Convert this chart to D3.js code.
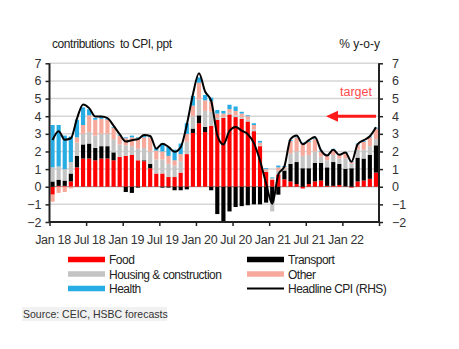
<!DOCTYPE html>
<html><head><meta charset="utf-8">
<script src="https://cdn.jsdelivr.net/npm/d3@7"></script>
<style>
body{margin:0;background:#fff;}
svg{display:block;font-family:"Liberation Sans",Arial,sans-serif;}
</style></head>
<body><svg id="c" width="459" height="349"></svg>
<script>
const months = ["2018-01","2018-02","2018-03","2018-04","2018-05","2018-06","2018-07","2018-08","2018-09","2018-10","2018-11","2018-12",
"2019-01","2019-02","2019-03","2019-04","2019-05","2019-06","2019-07","2019-08","2019-09","2019-10","2019-11","2019-12",
"2020-01","2020-02","2020-03","2020-04","2020-05","2020-06","2020-07","2020-08","2020-09","2020-10","2020-11","2020-12",
"2021-01","2021-02","2021-03","2021-04","2021-05","2021-06","2021-07","2021-08","2021-09","2021-10","2021-11","2021-12",
"2022-01","2022-02","2022-03","2022-04","2022-05","2022-06"];

const food = [-0.45,0.05,0.05,0.3,1.1,1.6,1.6,1.5,1.6,1.6,1.5,1.7,
1.75,1.8,1.5,1.45,1.05,0.75,0.75,0.55,0.55,0.8,1.85,3.05,
3.6,3.1,3.45,3.8,3.9,4.1,3.95,3.85,3.7,3.15,2.3,0.85,
0.38,0.7,0.42,0.3,0.15,-0.1,0.15,0.3,0.35,0.05,0.05,0.1,
0.02,-0.05,0.3,0.35,0.45,0.8];

const transport = [0.3,0.35,0.3,0.45,0.65,0.8,0.85,0.7,0.7,0.7,0.45,0.0,
-0.3,-0.35,-0.05,0.05,0.25,0.0,-0.05,-0.05,-0.2,-0.2,-0.15,0.25,
0.45,0.3,-0.2,-1.55,-2.0,-1.4,-1.15,-1.1,-1.05,-1.0,-1.0,-0.9,
-0.9,-0.45,0.5,1.0,1.25,1.05,0.9,1.05,1.0,1.05,1.35,1.2,
1.0,1.05,1.35,1.25,1.35,1.55];

const housing = [0.8,0.75,0.65,0.65,0.75,0.6,0.65,0.7,0.7,0.7,0.75,0.7,
0.6,0.5,0.65,0.7,0.7,0.8,0.8,0.75,0.65,0.65,0.7,0.7,
0.9,0.9,0.8,0.1,0.05,0.1,0.1,0.1,0.1,0.1,0.05,0.05,
-0.5,0.2,0.1,0.6,0.6,0.7,0.75,0.65,0.35,0.4,0.4,0.3,
0.6,0.25,0.45,0.5,0.5,0.35];

const other = [-0.4,-0.35,-0.3,-0.1,0.3,0.5,0.95,0.9,0.85,0.8,0.65,0.5,
0.4,0.5,0.6,0.6,0.8,0.5,0.45,0.45,0.3,0.4,0.45,0.6,
0.95,0.6,0.6,0.25,0.2,0.2,0.25,0.2,0.2,0.25,0.15,0.1,
0.1,0.2,0.1,0.7,0.8,0.7,0.75,0.7,0.3,0.25,0.3,0.2,
0.3,0.1,0.3,0.45,0.5,0.6];

const health = [2.4,2.35,1.9,1.45,1.0,1.0,0.35,0.1,0.1,0.05,0.05,0.05,
0.05,0.1,0.05,0.1,0.05,0.15,0.45,0.5,0.6,0.6,0.6,0.55,
0.3,0.3,0.2,0.2,0.15,0.25,0.25,0.1,0.05,0.1,0.1,0.05,
0.05,0.1,0.05,0.05,0.05,0.05,0.05,0.05,0.05,0.05,0.05,0.05,
0.05,0.05,0.05,0.05,0.05,0.05];

const headline = [2.65,3.15,2.66,2.75,3.86,4.67,4.46,3.98,3.98,3.89,3.46,2.98,
2.56,2.64,2.70,2.93,2.88,2.16,2.44,2.26,1.98,2.24,3.52,5.23,
6.43,5.40,4.87,2.93,2.40,3.17,3.39,3.18,2.98,2.47,1.48,0.19,
-0.97,0.70,1.16,2.70,2.90,2.41,2.64,2.82,2.06,1.77,2.10,1.81,
1.94,1.42,2.41,2.64,2.86,3.37];

const xTickLabels = ["Jan 18","Jul 18","Jan 19","Jul 19","Jan 20","Jul 20","Jan 21","Jul 21","Jan 22",""];
const yTicks = [-2,-1,0,1,2,3,4,5,6,7];
const seriesNames = ["Food","Transport","Housing & construction","Other","Health"];
const seriesColors = ["#ff0000","#000000","#c4c4c4","#f7aa9c","#27ace3"];
const targetValue = 4;

const svg = d3.select("#c");
const L = 49.5, R = 379, T = 63.3, B = 222;

const x = d3.scaleBand().domain(months).range([L, R]).paddingInner(0.32).paddingOuter(0.16);
const y = d3.scaleLinear().domain([-2, 7]).range([B, T]);
const xb = d3.scaleLinear().domain([0, months.length]).range([L, R]);

// gridlines
svg.append("g").selectAll("line").data(yTicks.filter(d => d > -2 && d !== 0)).join("line")
  .attr("x1", L).attr("x2", R).attr("y1", d => y(d)).attr("y2", d => y(d))
  .attr("stroke", "#d6d6d6").attr("stroke-width", 1.5);
svg.append("line").attr("x1", L).attr("x2", R).attr("y1", y(0)).attr("y2", y(0))
  .attr("stroke", "#8a8a8a").attr("stroke-width", 1);

// stacked bars
const table = months.map((m, i) => ({m, Food: food[i], Transport: transport[i],
  "Housing & construction": housing[i], Other: other[i], Health: health[i]}));
const stack = d3.stack().keys(seriesNames).offset(d3.stackOffsetDiverging)(table);
svg.append("g").selectAll("g").data(stack).join("g")
  .attr("fill", (d, i) => seriesColors[i])
  .selectAll("rect").data(d => d).join("rect")
  .attr("x", d => x(d.data.m)).attr("width", x.bandwidth())
  .attr("y", d => y(Math.max(d[0], d[1])))
  .attr("height", d => Math.abs(y(d[0]) - y(d[1])));

// headline line
const line = d3.line().x((d, i) => x(months[i]) + x.bandwidth() / 2).y(d => y(d)).curve(d3.curveMonotoneX);
svg.append("path").datum(headline).attr("d", line).attr("fill", "none")
  .attr("stroke", "#000").attr("stroke-width", 2);

// axes
const axL = svg.append("g").attr("transform", `translate(${L},0)`)
  .call(d3.axisLeft(y).tickValues(yTicks).tickSize(4).tickPadding(4).tickFormat(d3.format("d")));
const axR = svg.append("g").attr("transform", `translate(${R},0)`)
  .call(d3.axisRight(y).tickValues(yTicks).tickSize(4).tickPadding(9).tickFormat(d3.format("d")));
const axB = svg.append("g").attr("transform", `translate(0,${B})`)
  .call(d3.axisBottom(xb).tickValues(d3.range(0, months.length + 1, 6)).tickSize(4).tickPadding(9)
    .tickFormat((d, i) => xTickLabels[i]));
[axL, axR, axB].forEach(a => {
  a.select(".domain").attr("stroke", "#222").attr("stroke-width", 2);
  a.selectAll(".tick line").attr("stroke", "#222").attr("stroke-width", 1.5);
  a.selectAll("text").attr("fill", "#333").style("font-size", "12.5px")
    .style("font-family", "'Liberation Sans', Arial, sans-serif");
});
axL.select(".domain").attr("d", `M0,${T}V${B}`);
axR.select(".domain").attr("d", `M0,${T}V${B}`);
axB.select(".domain").attr("d", `M${L},0H${R}`);
axB.selectAll("text").attr("dx", 3).style("letter-spacing", "-0.3px");
axR.selectAll("text").attr("text-anchor", "start");

// titles
svg.append("text").attr("x", 52).attr("y", 48).text("contributions  to CPI, ppt")
  .attr("fill", "#222").style("font-size", "12px").style("letter-spacing", "-0.45px").attr("xml:space", "preserve")
  .style("white-space", "pre");
svg.append("text").attr("x", 380).attr("y", 48).attr("text-anchor", "end").text("% y-o-y")
  .attr("fill", "#222").style("font-size", "12px");

// target annotation
svg.append("text").attr("x", 340).attr("y", 96).text("target").attr("fill", "#ff4a4a").style("font-size", "12.5px");
svg.append("line").attr("x1", 336).attr("x2", 376).attr("y1", y(targetValue)).attr("y2", y(targetValue))
  .attr("stroke", "#ff1a1a").attr("stroke-width", 3);
svg.append("path").attr("d", `M326,${y(targetValue)}L338,${y(targetValue) - 5.5}L338,${y(targetValue) + 5.5}Z`)
  .attr("fill", "#ff1a1a");

// legend
const legendItems = [
  {name: "Food", color: seriesColors[0], col: 0, row: 0, type: "bar"},
  {name: "Housing & construction", color: seriesColors[2], col: 0, row: 1, type: "bar"},
  {name: "Health", color: seriesColors[4], col: 0, row: 2, type: "bar"},
  {name: "Transport", color: seriesColors[1], col: 1, row: 0, type: "bar"},
  {name: "Other", color: seriesColors[3], col: 1, row: 1, type: "bar"},
  {name: "Headline CPI (RHS)", color: "#000", col: 1, row: 2, type: "line"}
];
const lg = svg.append("g").selectAll("g").data(legendItems).join("g")
  .attr("transform", d => `translate(${d.col ? 247 : 68},${259.5 + d.row * 14.5})`);
lg.append("rect").attr("x", 0).attr("width", 37)
  .attr("y", d => d.type === "line" ? -1 : -2.75).attr("height", d => d.type === "line" ? 2 : 5.5)
  .attr("fill", d => d.color);
lg.append("text").attr("x", 41).attr("y", 4.5).text(d => d.name).attr("fill", "#222")
  .style("font-size", "12px").style("letter-spacing", "-0.5px");

// source
svg.append("rect").attr("x", 22).attr("y", 307).attr("width", 145).attr("height", 14).attr("fill", "#f1f1f1");
svg.append("text").attr("x", 23).attr("y", 318).text("Source: CEIC, HSBC forecasts")
  .attr("fill", "#333").style("font-size", "10.5px");
</script></body></html>
